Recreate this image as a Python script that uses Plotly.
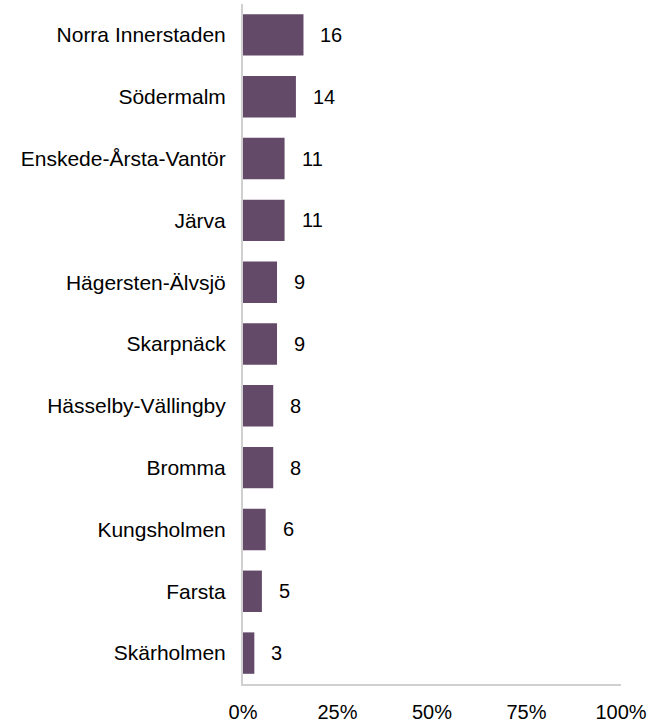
import plotly.graph_objects as go

categories = ["Norra Innerstaden", "Södermalm", "Enskede-Årsta-Vantör", "Järva",
              "Hägersten-Älvsjö", "Skarpnäck", "Hässelby-Vällingby", "Bromma",
              "Kungsholmen", "Farsta", "Skärholmen"]
values = [16, 14, 11, 11, 9, 9, 8, 8, 6, 5, 3]
tick_vals = [0, 25, 50, 75, 100]
tick_text = ["0%", "25%", "50%", "75%", "100%"]

FONT = "Liberation Sans, Arial"

fig = go.Figure()
fig.add_trace(go.Bar(
    x=values, y=categories, orientation="h",
    marker=dict(color="#634a68", line=dict(width=0)),
    hoverinfo="skip",
))
for c, v in zip(categories, values):
    fig.add_annotation(x=v, y=c, text=str(v), showarrow=False,
                       xanchor="left", xshift=15,
                       font=dict(family=FONT, size=20, color="#000000"))

fig.update_layout(
    width=659, height=722,
    margin=dict(l=243, r=38, t=4, b=38, pad=0, autoexpand=False),
    plot_bgcolor="white", paper_bgcolor="white",
    bargap=0.33,
    showlegend=False,
    font=dict(family=FONT, size=20, color="#000000"),
)
fig.update_xaxes(range=[0, 100], tickvals=tick_vals, ticktext=tick_text,
                 showgrid=False, zeroline=False, showline=True,
                 linecolor="#d0d0d0", linewidth=2, ticks="",
                 tickfont=dict(size=20), automargin=False,
                 ticklabelstandoff=9, fixedrange=True)
fig.update_yaxes(categoryorder="array", categoryarray=categories[::-1],
                 showgrid=False, zeroline=False, showline=True,
                 linecolor="#d0d0d0", linewidth=2, ticks="",
                 tickfont=dict(size=21), automargin=False,
                 ticklabelstandoff=11, fixedrange=True)

fig.write_html("out.html", config={"displayModeBar": False},
               post_script="document.body.style.margin='0';document.body.style.padding='0';")
